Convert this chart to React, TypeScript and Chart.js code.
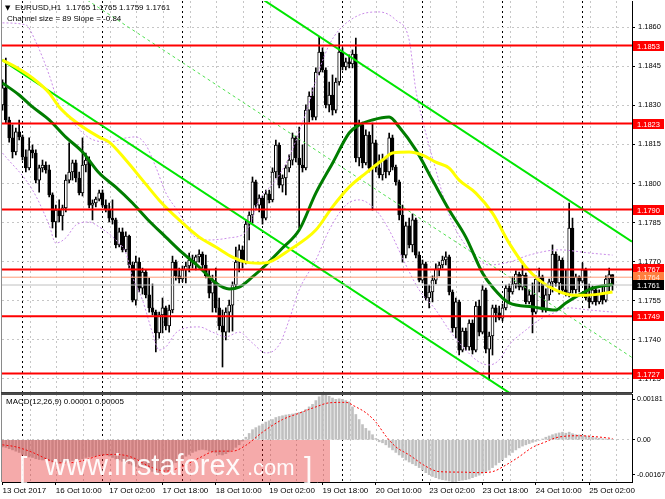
import React, { useEffect, useRef } from 'react';
import { Chart, registerables } from 'chart.js';

Chart.register(...registerables);

// ---------------- chart values ----------------
const symbolTitle = 'EURUSD,H1';
const lastBarQuote = ['1.1765', '1.1765', '1.1759', '1.1761'];
const channelSizePips = 89;
const channelSlopePips = -0.84;
const channelLowerStart = 1.18473; // lower channel line at the first visible bar
const macdTitle = 'MACD(12,26,9)';
const macdLastValues = ['0.00001', '0.00005'];

const timeLabels = [
  '13 Oct 2017', '16 Oct 10:00', '17 Oct 02:00', '17 Oct 18:00', '18 Oct 10:00', '19 Oct 02:00',
  '19 Oct 18:00', '20 Oct 10:00', '23 Oct 02:00', '23 Oct 18:00', '24 Oct 10:00', '25 Oct 02:00',
];
const priceTicks = [1.1725, 1.174, 1.1755, 1.177, 1.1785, 1.18, 1.1815, 1.183, 1.1845, 1.186];
const redLevels = [1.1853, 1.1823, 1.179, 1.1767, 1.1749, 1.1727];
const markerLevel = 1.1764;
const bidLevel = 1.1761;
const macdLow = -0.00167;
const macdHigh = 0.00181;

const openP = [
  1.18302, 1.18367, 1.18244, 1.18175, 1.18121, 1.18198, 1.18179, 1.18102, 1.18060, 1.18129,
  1.18117, 1.18013, 1.18060, 1.18071, 1.18052, 1.17956, 1.17852, 1.17898, 1.17875, 1.17906,
  1.18013, 1.18044, 1.18079, 1.18021, 1.17964, 1.18071, 1.18090, 1.17917, 1.17925, 1.17940,
  1.17964, 1.17917, 1.17898, 1.17867, 1.17860, 1.17764, 1.17814, 1.17745, 1.17798, 1.17687,
  1.17552, 1.17698, 1.17598, 1.17660, 1.17572, 1.17522, 1.17506, 1.17426, 1.17495, 1.17522,
  1.17453, 1.17514, 1.17698, 1.17645, 1.17633, 1.17668, 1.17683, 1.17706, 1.17698, 1.17718,
  1.17729, 1.17687, 1.17645, 1.17579, 1.17622, 1.17522, 1.17453, 1.17429, 1.17506, 1.17533,
  1.17610, 1.17698, 1.17745, 1.17698, 1.17844, 1.17879, 1.18006, 1.17917, 1.17944, 1.17867,
  1.17960, 1.17937, 1.18044, 1.18148, 1.17994, 1.18021, 1.18060, 1.18090, 1.18175, 1.18098,
  1.18071, 1.18060, 1.18282, 1.18336, 1.18255, 1.18428, 1.18505, 1.18436, 1.18302, 1.18340,
  1.18282, 1.18390, 1.18505, 1.18448, 1.18467, 1.18459, 1.18497, 1.18098, 1.18225, 1.18079,
  1.18186, 1.18060, 1.18156, 1.18060, 1.18033, 1.18090, 1.18044, 1.18175, 1.18063, 1.18006,
  1.17879, 1.17725, 1.17837, 1.17764, 1.17860, 1.17725, 1.17629, 1.17691, 1.17560, 1.17583,
  1.17629, 1.17671, 1.17687, 1.17706, 1.17718, 1.17583, 1.17445, 1.17545, 1.17360, 1.17433,
  1.17372, 1.17464, 1.17360, 1.17529, 1.17429, 1.17591, 1.17364, 1.17414, 1.17522, 1.17503,
  1.17483, 1.17522, 1.17598, 1.17583, 1.17614, 1.17652, 1.17602, 1.17648, 1.17545, 1.17572,
  1.17506, 1.17633, 1.17641, 1.17514, 1.17572, 1.17622, 1.17729, 1.17618, 1.17706, 1.17591,
  1.17579, 1.17829, 1.17591, 1.17641, 1.17625, 1.17668, 1.17560, 1.17545, 1.17591, 1.17545,
  1.17579, 1.17552, 1.17633, 1.17650,
];
const highP = [
  1.18398, 1.18482, 1.18255, 1.18225, 1.18213, 1.18244, 1.18186, 1.18129, 1.18175, 1.18148,
  1.18129, 1.18071, 1.18090, 1.18083, 1.18071, 1.17964, 1.17917, 1.17937, 1.17917, 1.18033,
  1.18156, 1.18090, 1.18090, 1.18044, 1.18175, 1.18117, 1.18102, 1.17937, 1.17948, 1.17975,
  1.17975, 1.17937, 1.17925, 1.17937, 1.17867, 1.17829, 1.17829, 1.17814, 1.17802, 1.17698,
  1.17721, 1.17714, 1.17675, 1.17668, 1.17637, 1.17614, 1.17514, 1.17506, 1.17560, 1.17529,
  1.17533, 1.17721, 1.17706, 1.17675, 1.17683, 1.17698, 1.17733, 1.17725, 1.17725, 1.17745,
  1.17737, 1.17725, 1.17668, 1.17648, 1.17675, 1.17560, 1.17514, 1.17522, 1.17552, 1.17622,
  1.17756, 1.17764, 1.17760, 1.17860, 1.17891, 1.18025, 1.18013, 1.17956, 1.17952, 1.17975,
  1.17975, 1.18060, 1.18167, 1.18156, 1.18033, 1.18071, 1.18110, 1.18194, 1.18182, 1.18217,
  1.18148, 1.18302, 1.18352, 1.18367, 1.18444, 1.18563, 1.18521, 1.18444, 1.18390, 1.18417,
  1.18405, 1.18578, 1.18521, 1.18482, 1.18494, 1.18513, 1.18559, 1.18244, 1.18236, 1.18206,
  1.18198, 1.18232, 1.18167, 1.18110, 1.18113, 1.18102, 1.18194, 1.18186, 1.18071, 1.18013,
  1.17917, 1.17852, 1.17867, 1.17883, 1.17867, 1.17737, 1.17706, 1.17698, 1.17610, 1.17645,
  1.17691, 1.17698, 1.17721, 1.17737, 1.17725, 1.17591, 1.17560, 1.17552, 1.17445, 1.17445,
  1.17476, 1.17476, 1.17545, 1.17552, 1.17610, 1.17598, 1.17429, 1.17533, 1.17533, 1.17529,
  1.17537, 1.17610, 1.17614, 1.17641, 1.17664, 1.17660, 1.17687, 1.17656, 1.17591, 1.17618,
  1.17645, 1.17675, 1.17648, 1.17595, 1.17633, 1.17764, 1.17737, 1.17721, 1.17714, 1.17668,
  1.17925, 1.17867, 1.17652, 1.17645, 1.17695, 1.17675, 1.17614, 1.17606, 1.17598, 1.17591,
  1.17602, 1.17645, 1.17675, 1.17650,
];
const lowP = [
  1.18282, 1.18232, 1.18159, 1.18098, 1.18110, 1.18167, 1.18090, 1.18044, 1.18052, 1.18098,
  1.18002, 1.17967, 1.18044, 1.18040, 1.17948, 1.17829, 1.17794, 1.17852, 1.17821, 1.17891,
  1.18002, 1.18013, 1.18006, 1.17956, 1.17952, 1.18044, 1.17906, 1.17860, 1.17910, 1.17933,
  1.17910, 1.17891, 1.17852, 1.17844, 1.17752, 1.17756, 1.17737, 1.17737, 1.17675, 1.17545,
  1.17533, 1.17583, 1.17575, 1.17560, 1.17506, 1.17495, 1.17353, 1.17406, 1.17426, 1.17437,
  1.17429, 1.17503, 1.17629, 1.17618, 1.17622, 1.17618, 1.17660, 1.17675, 1.17668, 1.17698,
  1.17675, 1.17637, 1.17560, 1.17506, 1.17506, 1.17437, 1.17295, 1.17399, 1.17429, 1.17433,
  1.17598, 1.17660, 1.17675, 1.17691, 1.17783, 1.17848, 1.17898, 1.17891, 1.17844, 1.17860,
  1.17925, 1.17929, 1.18021, 1.17983, 1.17967, 1.17956, 1.18044, 1.18071, 1.18083, 1.17829,
  1.18044, 1.18052, 1.18236, 1.18244, 1.18244, 1.18417, 1.18428, 1.18290, 1.18275, 1.18263,
  1.18271, 1.18378, 1.18436, 1.18436, 1.18444, 1.18444, 1.18083, 1.18067, 1.18060, 1.18071,
  1.18044, 1.17898, 1.18044, 1.18021, 1.18013, 1.18021, 1.18033, 1.18052, 1.17994, 1.17860,
  1.17698, 1.17714, 1.17752, 1.17737, 1.17714, 1.17622, 1.17618, 1.17552, 1.17522, 1.17545,
  1.17614, 1.17645, 1.17675, 1.17687, 1.17572, 1.17429, 1.17406, 1.17341, 1.17353, 1.17360,
  1.17360, 1.17345, 1.17353, 1.17414, 1.17422, 1.17349, 1.17245, 1.17341, 1.17468, 1.17476,
  1.17472, 1.17514, 1.17545, 1.17575, 1.17598, 1.17591, 1.17591, 1.17537, 1.17537, 1.17426,
  1.17499, 1.17583, 1.17506, 1.17506, 1.17552, 1.17583, 1.17606, 1.17575, 1.17583, 1.17568,
  1.17564, 1.17579, 1.17579, 1.17583, 1.17618, 1.17552, 1.17522, 1.17537, 1.17533, 1.17537,
  1.17537, 1.17545, 1.17579, 1.17590,
];
const closeP = [
  1.18367, 1.18244, 1.18175, 1.18121, 1.18198, 1.18179, 1.18102, 1.18060, 1.18129, 1.18117,
  1.18013, 1.18060, 1.18071, 1.18052, 1.17956, 1.17852, 1.17898, 1.17875, 1.17906, 1.18013,
  1.18044, 1.18079, 1.18021, 1.17964, 1.18071, 1.18090, 1.17917, 1.17925, 1.17940, 1.17964,
  1.17917, 1.17898, 1.17867, 1.17860, 1.17764, 1.17814, 1.17745, 1.17798, 1.17687, 1.17552,
  1.17698, 1.17598, 1.17660, 1.17572, 1.17522, 1.17506, 1.17426, 1.17495, 1.17522, 1.17453,
  1.17514, 1.17698, 1.17645, 1.17633, 1.17668, 1.17683, 1.17706, 1.17698, 1.17718, 1.17729,
  1.17687, 1.17645, 1.17579, 1.17622, 1.17522, 1.17453, 1.17429, 1.17506, 1.17533, 1.17610,
  1.17698, 1.17745, 1.17698, 1.17844, 1.17879, 1.18006, 1.17917, 1.17944, 1.17867, 1.17960,
  1.17937, 1.18044, 1.18148, 1.17994, 1.18021, 1.18060, 1.18090, 1.18175, 1.18098, 1.18071,
  1.18060, 1.18282, 1.18336, 1.18255, 1.18428, 1.18505, 1.18436, 1.18302, 1.18340, 1.18282,
  1.18390, 1.18505, 1.18448, 1.18467, 1.18459, 1.18497, 1.18098, 1.18225, 1.18079, 1.18186,
  1.18060, 1.18156, 1.18060, 1.18033, 1.18090, 1.18044, 1.18175, 1.18063, 1.18006, 1.17879,
  1.17725, 1.17837, 1.17764, 1.17860, 1.17725, 1.17629, 1.17691, 1.17560, 1.17583, 1.17629,
  1.17671, 1.17687, 1.17706, 1.17718, 1.17583, 1.17445, 1.17545, 1.17360, 1.17433, 1.17372,
  1.17464, 1.17360, 1.17529, 1.17429, 1.17591, 1.17364, 1.17414, 1.17522, 1.17503, 1.17483,
  1.17522, 1.17598, 1.17583, 1.17614, 1.17652, 1.17602, 1.17648, 1.17545, 1.17572, 1.17506,
  1.17633, 1.17641, 1.17514, 1.17572, 1.17622, 1.17729, 1.17618, 1.17706, 1.17591, 1.17579,
  1.17829, 1.17591, 1.17641, 1.17625, 1.17668, 1.17560, 1.17545, 1.17591, 1.17545, 1.17579,
  1.17552, 1.17633, 1.17650, 1.17610,
];

// moving averages and envelopes, [bar, price]
const maYellow = [
  [0, 1.18474], [4, 1.18447], [9, 1.18405], [14, 1.18348], [17, 1.18294], [22, 1.18236], [29, 1.18178],
  [32, 1.18159], [37, 1.1809], [42, 1.18013], [47, 1.17936], [53, 1.1786], [59, 1.17794], [64, 1.17756],
  [69, 1.17717], [73, 1.17698], [77, 1.17694], [80, 1.17698], [86, 1.17744], [94, 1.17821], [99, 1.1791],
  [104, 1.17986], [109, 1.1804], [114, 1.1809], [117, 1.18117], [122, 1.18121], [126, 1.18109], [130, 1.18082],
  [134, 1.18059], [137, 1.18013], [142, 1.17963], [147, 1.17886], [152, 1.17771], [157, 1.17679], [161, 1.17629],
  [166, 1.1759], [171, 1.17571], [175, 1.17571], [179, 1.17575], [183, 1.17583],
];
const maGreen = [
  [0, 1.18386], [5, 1.1834], [9, 1.18294], [14, 1.18244], [19, 1.18178], [24, 1.18121], [29, 1.1804],
  [34, 1.17986], [39, 1.17925], [44, 1.17856], [49, 1.17794], [54, 1.17733], [59, 1.17679], [64, 1.17618],
  [68, 1.17595], [71, 1.17602], [75, 1.17641], [79, 1.17687], [84, 1.17752], [89, 1.17821], [94, 1.17963],
  [99, 1.18078], [104, 1.18194], [107, 1.18225], [111, 1.18244], [116, 1.18255], [119, 1.18217], [124, 1.18129],
  [129, 1.18013], [134, 1.17898], [139, 1.17794], [144, 1.17656], [147, 1.17602], [152, 1.17541], [159, 1.17526],
  [166, 1.17514], [169, 1.17541], [173, 1.17572], [177, 1.17598], [183, 1.17612],
];
const bandUpper = [
  [0, 1.18617], [7, 1.18609], [10, 1.18544], [14, 1.18417], [17, 1.18302], [21, 1.18236], [26, 1.18175],
  [32, 1.18159], [37, 1.18175], [40, 1.18179], [43, 1.18148], [46, 1.18063], [49, 1.17964], [53, 1.17887],
  [57, 1.17802], [62, 1.17783], [68, 1.17791], [73, 1.17814], [77, 1.17937], [82, 1.18013], [86, 1.18102],
  [91, 1.18271], [95, 1.18436], [98, 1.18532], [101, 1.1859], [107, 1.18647], [113, 1.18659], [118, 1.18628],
  [122, 1.18551], [124, 1.18359], [126, 1.18244], [130, 1.18052], [134, 1.17879], [140, 1.17745], [146, 1.17687],
  [152, 1.17698], [158, 1.17725], [167, 1.17745], [176, 1.17733], [183, 1.17725],
];
const bandLower = [
  [0, 1.18117], [9, 1.17975], [14, 1.1784], [16, 1.17771], [19, 1.17791], [22, 1.1784], [26, 1.17852],
  [29, 1.17833], [34, 1.17783], [37, 1.17733], [39, 1.17641], [42, 1.17552], [45, 1.17426], [47, 1.1736],
  [49, 1.17372], [52, 1.17426], [55, 1.17445], [59, 1.17449], [63, 1.17429], [67, 1.17411], [71, 1.17429],
  [75, 1.17387], [79, 1.17349], [83, 1.1738], [86, 1.17476], [89, 1.17591], [94, 1.17706], [98, 1.17821],
  [103, 1.17917], [107, 1.17937], [112, 1.17898], [116, 1.17821], [121, 1.17687], [125, 1.17591], [130, 1.17514],
  [134, 1.17437], [139, 1.1736], [143, 1.17314], [146, 1.17303], [149, 1.17322], [152, 1.1738], [157, 1.17437],
  [161, 1.17476], [166, 1.17506], [170, 1.17522], [176, 1.17514], [183, 1.17506],
];

const macdHist = [
  -0.00028, -0.0003, -0.00035, -0.0004, -0.00045, -0.0005, -0.00058, -0.00065, -0.00068, -0.0007,
  -0.00075, -0.00078, -0.0008, -0.0008, -0.00082, -0.00088, -0.00092, -0.00093, -0.0009, -0.00088,
  -0.00085, -0.00082, -0.0008, -0.00078, -0.00075, -0.0007, -0.00068, -0.00066, -0.00064, -0.0006,
  -0.00058, -0.0006, -0.00064, -0.0007, -0.00076, -0.0008, -0.00085, -0.0009, -0.00095,
  -0.001, -0.00105, -0.0011, -0.00112, -0.00115, -0.0012, -0.00125, -0.0013, -0.0013, -0.00128, -0.00125,
  -0.0012, -0.001, -0.0009, -0.00082, -0.00075, -0.00065, -0.00058, -0.0005, -0.00045, -0.0004,
  -0.00038, -0.0004, -0.00045, -0.00048, -0.00052, -0.00058, -0.0006, -0.00055, -0.00048, -0.0004,
  -0.0003, -0.0002, -0.00005, 0.0001, 0.00025, 0.0004, 0.00048, 0.00055, 0.00062, 0.0007,
  0.00075, 0.0008, 0.00088, 0.00092, 0.00095, 0.00098, 0.001, 0.00102, 0.00105, 0.00108,
  0.00112, 0.0012, 0.0013, 0.0014, 0.00155, 0.0017, 0.00181, 0.00178, 0.00172, 0.00165,
  0.0016, 0.00162, 0.0016, 0.00155, 0.0015, 0.0013, 0.001, 0.0008, 0.0006, 0.00045,
  0.00035, 0.0002, 0.00005, -0.00008, -0.00012, -0.0002, -0.0003, -0.0004, -0.0005, -0.0006,
  -0.0007, -0.0008, -0.00088, -0.00095, -0.00102, -0.0011, -0.0012, -0.0013, -0.00138, -0.00145,
  -0.0015, -0.00155, -0.00158, -0.0016, -0.00163, -0.00167, -0.00165, -0.00162, -0.0016, -0.00158,
  -0.00155, -0.0015, -0.00145, -0.0014, -0.00132, -0.00128, -0.0012, -0.0011, -0.001, -0.0009,
  -0.0008, -0.0007, -0.0006, -0.0005, -0.0004, -0.00032, -0.00025, -0.0002, -0.00015, -0.0001,
  -0.00006, -0.00002, 0.00003, 0.0001, 0.00015, 0.0002, 0.00024, 0.00027, 0.0003, 0.00026,
  0.0003, 0.00024, 0.0002, 0.00019, 0.00018, 0.00015, 0.00012, 0.0001, 0.00008, 0.00006,
  0.00004, 0.00003, 0.00002, 0.00001,
];
const macdSignal = [
  [0, -0.0002], [4, -0.00028], [9, -0.0005], [15, -0.00085], [19, -0.00092], [24, -0.00083], [30, -0.0006],
  [34, -0.00058], [39, -0.0007], [44, -0.00105], [49, -0.00124], [54, -0.00105], [59, -0.00072], [64, -0.00045],
  [69, -0.00045], [73, -0.00022], [78, 0.0003], [84, 0.0008], [89, 0.00105], [94, 0.0013], [98, 0.00146],
  [103, 0.00148], [106, 0.0013], [109, 0.00107], [112, 0.0007], [115, 0.00015], [118, -0.00028], [122, -0.0006],
  [127, -0.00105], [131, -0.00126], [138, -0.00128], [143, -0.0013], [147, -0.00126], [151, -0.001],
  [155, -0.00067], [159, -0.0003], [163, -0.00008], [166, 0.00008], [173, 0.00016], [178, 0.00012], [183, 0.00005],
];

// ---------------- drawing setup ----------------
const FONT = "'Liberation Sans', Arial, Helvetica, sans-serif";
const FONT_SIZE = 8;
const AXIS_FONT_SIZE = 7.5;
const MACD_AXIS_FONT_SIZE = 7.1;
const PIP = 0.0001;
const X_MIN = -0.15;
const X_MAX = 188.85;
const AXIS_W = 33;
const GRID_GRAY = '#c6c6c6';
const TRANSPARENT = 'rgba(0,0,0,0)';

const bars = openP.map((_, i) => i);
const toPoints = (pairs: number[][]) => pairs.map(([x, y]) => ({ x, y }));

function timeTicks(withLabels: boolean) {
  const t: any[] = [];
  for (let v = 8.25; v <= X_MAX; v += 8) t.push({ value: v, kind: 'grid' });
  for (let v = 6; v <= X_MAX; v += 24) t.push({ value: v, kind: 'sep' });
  if (withLabels) timeLabels.forEach((s, k) => t.push({ value: k * 16, kind: 'label', text: s }));
  t.sort((a, b) => a.value - b.value);
  return t;
}

const gridColor = (c: any) =>
  c.tick && c.tick.kind === 'sep' ? '#000000' : c.tick && c.tick.kind === 'label' ? TRANSPARENT : GRID_GRAY;

function flatLine(value: number, color: string, width: number) {
  return {
    type: 'line',
    data: [{ x: X_MIN, y: value }, { x: X_MAX, y: value }],
    borderColor: color,
    borderWidth: width,
    pointRadius: 0,
    order: 1,
  };
}

function channelLine(offsetPips: number, color: string, width: number, dash: number[]) {
  const at = (i: number) => channelLowerStart + (offsetPips + channelSlopePips * i) * PIP;
  return {
    type: 'line',
    data: [{ x: X_MIN, y: at(X_MIN) }, { x: X_MAX, y: at(X_MAX) }],
    borderColor: color,
    borderWidth: width,
    borderDash: dash,
    pointRadius: 0,
    order: 3,
  };
}

function curve(pairs: number[][], color: string, width: number, dash: number[], order: number) {
  return {
    type: 'line',
    data: toPoints(pairs),
    borderColor: color,
    borderWidth: width,
    borderDash: dash,
    pointRadius: 0,
    cubicInterpolationMode: 'monotone',
    order,
  };
}

const priceTags = [
  ...redLevels.map((v) => ({ value: v, bg: '#ff0000', fg: '#ffffff' })),
  { value: markerLevel, bg: '#ff7f3f', fg: '#ffe9dc' },
  { value: bidLevel, bg: '#000000', fg: '#ffffff' },
];

const mainDecor = {
  id: 'mainDecor',
  afterDraw(chart: any) {
    const { ctx, chartArea } = chart;
    const y = chart.scales.y;
    ctx.save();
    // panel frame
    ctx.fillStyle = '#8a8a8a';
    ctx.fillRect(1, 0, 1, chart.height);
    ctx.fillStyle = '#3c3c3c';
    ctx.fillRect(1, chartArea.bottom, chartArea.right - 1, 1);
    // price tags on the right axis
    ctx.font = `${AXIS_FONT_SIZE}px ${FONT}`;
    ctx.textBaseline = 'middle';
    ctx.textAlign = 'left';
    priceTags.forEach((t) => {
      const py = Math.round(y.getPixelForValue(t.value));
      ctx.fillStyle = t.bg;
      ctx.fillRect(chartArea.right + 1, py - 5, 31, 10);
      ctx.fillStyle = t.fg;
      ctx.fillText(t.value.toFixed(4), chartArea.right + 5, py + 0.5);
    });
    // header
    ctx.fillStyle = '#000';
    ctx.font = `7px 'DejaVu Sans', ${FONT}`;
    ctx.fillText('\u25BC', 5, 8);
    ctx.font = `${FONT_SIZE}px ${FONT}`;
    ctx.fillText(`${symbolTitle}  ${lastBarQuote.join(' ')}`, 15, 8);
    ctx.fillText(`Channel size = ${channelSizePips} Slope = ${channelSlopePips.toFixed(2)}`, 7, 19);
    ctx.restore();
  },
};

const macdDecor = {
  id: 'macdDecor',
  afterDraw(chart: any) {
    const { ctx, chartArea } = chart;
    ctx.save();
    ctx.fillStyle = '#8a8a8a';
    ctx.fillRect(1, 0, 1, chartArea.bottom);
    ctx.fillStyle = '#4a4a4a';
    ctx.fillRect(1, 0, chartArea.right - 1, 2);
    ctx.fillStyle = '#000';
    ctx.font = `${FONT_SIZE}px ${FONT}`;
    ctx.textBaseline = 'middle';
    ctx.fillText(`${macdTitle} ${macdLastValues.join(' ')}`, 6, 9);
    // site banner
    ctx.fillStyle = 'rgba(228, 20, 20, 0.36)';
    ctx.fillRect(2, 47, 328, chartArea.bottom - 47);
    ctx.fillStyle = 'rgba(255,255,255,0.95)';
    ctx.textBaseline = 'alphabetic';
    ctx.font = `300 30px ${FONT}`;
    ctx.fillText('[', 19, 85);
    ctx.fillText(']', 304, 85);
    ctx.font = `29px ${FONT}`;
    ctx.fillText('www.instaforex', 45, 82);
    ctx.font = `22px ${FONT}`;
    ctx.fillText('.com', 247, 82);
    ctx.restore();
  },
};

export default function App() {
  const mainRef = useRef<HTMLCanvasElement>(null);
  const macdRef = useRef<HTMLCanvasElement>(null);

  useEffect(() => {
    const common = {
      responsive: false,
      animation: false,
      events: [],
      plugins: { legend: { display: false }, tooltip: { enabled: false } },
    };

    const main = new Chart(mainRef.current as HTMLCanvasElement, {
      type: 'bar',
      data: {
        datasets: [
          ...redLevels.map((v) => flatLine(v, '#ff0000', 2)),
          flatLine(markerLevel, '#ff9c78', 1),
          flatLine(bidLevel, '#c0c0c0', 1),
          curve(maYellow, '#ffff00', 3, [], 2),
          curve(maGreen, '#007d00', 3, [], 2),
          channelLine(0, '#00e600', 2, []),
          channelLine(channelSizePips, '#00e600', 2, []),
          channelLine(channelSizePips / 2, '#4fe04f', 1, [3, 3]),
          curve(bandUpper, '#c98be8', 1, [2, 2], 4),
          curve(bandLower, '#c98be8', 1, [2, 2], 4),
          {
            type: 'bar',
            data: bars.map((i) => ({ x: i, y: [openP[i], closeP[i]] })),
            backgroundColor: bars.map((i) => (closeP[i] > openP[i] ? '#ffffff' : '#000000')),
            borderColor: '#000000',
            borderWidth: 1,
            borderSkipped: false,
            barThickness: 3,
            minBarLength: 1,
            grouped: false,
            order: 5,
          },
          {
            type: 'bar',
            data: bars.map((i) => ({ x: i, y: [lowP[i], highP[i]] })),
            backgroundColor: '#000000',
            borderWidth: 0,
            barThickness: 1,
            grouped: false,
            order: 6,
          },
        ] as any,
      },
      options: {
        ...common,
        layout: { padding: { left: 2, top: 1, right: 0, bottom: 1 } },
        scales: {
          x: {
            type: 'linear',
            min: X_MIN,
            max: X_MAX,
            offset: false,
            afterBuildTicks: (s: any) => { s.ticks = timeTicks(false); },
            afterFit: (s: any) => { s.height = 0; s.paddingLeft = 0; s.paddingRight = 0; },
            ticks: { display: false },
            grid: { offset: false, drawTicks: false, color: gridColor, lineWidth: 1 },
            border: { display: false, dash: [2, 3] },
          },
          y: {
            type: 'linear',
            position: 'right',
            min: 1.17199,
            max: 1.18701,
            afterBuildTicks: (s: any) => { s.ticks = priceTicks.map((v) => ({ value: v })); },
            afterFit: (s: any) => { s.width = AXIS_W; s.paddingTop = 0; s.paddingBottom = 0; },
            ticks: {
              callback: (v: any) => Number(v).toFixed(4),
              color: '#000',
              font: { family: FONT, size: AXIS_FONT_SIZE },
              padding: 3,
            },
            grid: { color: GRID_GRAY, drawTicks: true, tickLength: 3, tickColor: '#000', tickBorderDash: [] },
            border: { display: true, color: '#000', width: 1, dash: [2, 3] },
          },
        },
      } as any,
      plugins: [mainDecor],
    });

    const macd = new Chart(macdRef.current as HTMLCanvasElement, {
      type: 'bar',
      data: {
        datasets: [
          {
            type: 'line',
            data: toPoints(macdSignal),
            borderColor: '#ff0000',
            borderWidth: 1,
            borderDash: [2, 2],
            pointRadius: 0,
            cubicInterpolationMode: 'monotone',
            order: 1,
          },
          {
            type: 'bar',
            data: bars.map((i) => ({ x: i, y: macdHist[i] })),
            backgroundColor: '#c0c0c0',
            borderWidth: 0,
            barThickness: 2,
            grouped: false,
            order: 2,
          },
        ] as any,
      },
      options: {
        ...common,
        layout: { padding: { left: 2, top: 1, right: 0, bottom: 0 } },
        scales: {
          x: {
            type: 'linear',
            min: X_MIN,
            max: X_MAX,
            offset: false,
            afterBuildTicks: (s: any) => { s.ticks = timeTicks(true); },
            afterFit: (s: any) => { s.height = 17; s.paddingLeft = 0; s.paddingRight = 0; },
            ticks: {
              autoSkip: false,
              maxRotation: 0,
              minRotation: 0,
              align: 'start',
              padding: 1,
              color: '#000',
              font: { family: FONT, size: FONT_SIZE },
              callback: (_v: any, i: number, ticks: any[]) => ticks[i].text || '',
            },
            grid: {
              offset: false,
              color: gridColor,
              drawTicks: true,
              tickLength: 3,
              tickColor: (c: any) => (c.tick && c.tick.kind === 'label' ? '#000' : TRANSPARENT),
            },
            border: { display: true, color: '#000', width: 1, dash: [2, 3] },
          },
          y: {
            type: 'linear',
            position: 'right',
            min: macdLow,
            max: macdHigh,
            afterBuildTicks: (s: any) => {
              s.ticks = [
                { value: macdLow + 0.00028, text: macdLow.toFixed(5) },
                { value: 0, text: '0.00' },
                { value: macdHigh - 0.0002, text: macdHigh.toFixed(5) },
              ];
            },
            afterFit: (s: any) => { s.width = AXIS_W; s.paddingTop = 0; s.paddingBottom = 0; },
            ticks: {
              callback: (_v: any, i: number, ticks: any[]) => ticks[i].text,
              color: '#000',
              font: { family: FONT, size: MACD_AXIS_FONT_SIZE },
              padding: 2,
            },
            grid: {
              color: (c: any) => (c.tick && c.tick.value === 0 ? GRID_GRAY : TRANSPARENT),
              drawTicks: true,
              tickLength: 3,
              tickColor: '#000',
            },
            border: { display: true, color: '#000', width: 1, dash: [2, 3] },
          },
        },
      } as any,
      plugins: [macdDecor],
    });

    return () => {
      main.destroy();
      macd.destroy();
    };
  }, []);

  return (
    <div style={{ position: 'fixed', left: 0, top: 0, width: 665, height: 499, background: '#fff', overflow: 'hidden' }}>
      <canvas ref={mainRef} width={665} height={393} style={{ position: 'absolute', left: 0, top: 0 }} />
      <canvas ref={macdRef} width={665} height={106} style={{ position: 'absolute', left: 0, top: 393 }} />
    </div>
  );
}
